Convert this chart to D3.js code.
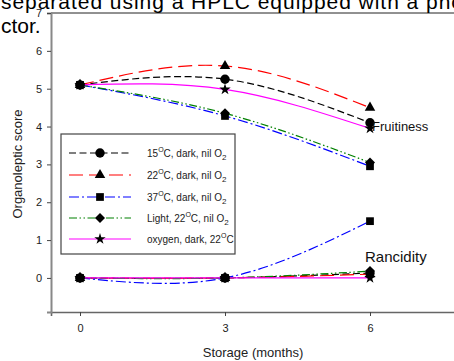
<!DOCTYPE html>
<html><head><meta charset="utf-8">
<script src="https://cdn.jsdelivr.net/npm/d3@7"></script>
<style>html,body{margin:0;padding:0;background:#fff;overflow:hidden}svg{display:block;font-family:Arial,"Liberation Sans",sans-serif}</style>
</head><body>
<script>
// ---- data ----
const months = [0, 3, 6];
const xTicks = [0, 3, 6];
const yTicks = [0, 1, 2, 3, 4, 5, 6, 7];
const seriesLabels = ["15|C, dark, nil O|2", "22|C, dark, nil O|2", "37|C, dark, nil O|2", "Light, 22|C, nil O|2", "oxygen, dark, 22|C|"];
const fruit15 = [5.1, 5.25, 4.1];
const fruit22 = [5.1, 5.6, 4.5];
const fruit37 = [5.1, 4.28, 2.95];
const fruitLight = [5.1, 4.35, 3.05];
const fruitOxy = [5.1, 4.98, 3.95];
const ranc15 = [0, 0, 0.13];
const ranc22 = [0, 0, 0.1];
const ranc37 = [0, 0, 1.5];
const rancLight = [0, 0, 0.18];
const rancOxy = [0, 0, 0];

const styles = [
  {color: "#000000", dash: "7,3.5", sym: d3.symbolCircle, size: 70, rot: 0},
  {color: "#ff0000", dash: "14,6", sym: d3.symbolTriangle, size: 48, rot: 0},
  {color: "#0000ff", dash: "10,3,2,3", sym: d3.symbolSquare, size: 60, rot: 0},
  {color: "#008000", dash: "8,2.5,1.5,2.5,1.5,2.5", sym: d3.symbolSquare, size: 50, rot: 45},
  {color: "#ff00ff", dash: null, sym: d3.symbolStar, size: 40, rot: 0}
];
const fruitSeries = [fruit15, fruit22, fruit37, fruitLight, fruitOxy];
const rancSeries = [ranc15, ranc22, ranc37, rancLight, rancOxy];

const W = 454, H = 361;
const svg = d3.select("body").append("svg").attr("width", W).attr("height", H);

const x = d3.scaleLinear().domain([-0.6, 7.8]).range([51, 457]);
const y = d3.scaleLinear().domain([-0.9, 7]).range([312, 13]);

// top frame line
svg.append("line").attr("x1", 51).attr("x2", W).attr("y1", 13).attr("y2", 13).attr("stroke", "#222").attr("stroke-width", 1);

// axes
const gx = svg.append("g").attr("transform", "translate(0,312)")
  .call(d3.axisBottom(x).tickValues(xTicks).tickSize(4).tickPadding(8).tickFormat(d3.format("d")));
const gy = svg.append("g").attr("transform", "translate(51,0)")
  .call(d3.axisLeft(y).tickValues(yTicks).tickSize(4).tickPadding(5).tickFormat(d3.format("d")));
[gx, gy].forEach(g => {
  g.select(".domain").attr("stroke", "#666").attr("stroke-width", 1.6);
  g.selectAll(".tick line").attr("stroke", "#444");
  g.selectAll(".tick text").attr("font-size", 11).attr("fill", "#222").attr("font-family", "Arial, 'Liberation Sans', sans-serif");
});
gy.select(".domain").attr("stroke", "#888").attr("stroke-width", 2);

// axis titles
svg.append("text").attr("x", 253).attr("y", 357).attr("text-anchor", "middle").attr("font-size", 13).attr("fill", "#222").text("Storage (months)");
svg.append("text").attr("transform", "translate(22,164) rotate(-90)").attr("text-anchor", "middle").attr("font-size", 13).attr("fill", "#222").text("Organoleptic score");

const line = d3.line().x((d, i) => x(months[i])).y(d => y(d)).curve(d3.curveNatural);

function drawSeries(data, s) {
  svg.append("path").datum(data).attr("d", line).attr("fill", "none")
    .attr("stroke", s.color).attr("stroke-width", 1.2)
    .attr("stroke-dasharray", s.dash);
}
function drawMarkers(data, s) {
  svg.append("g").selectAll("path").data(data).join("path")
    .attr("transform", (d, i) => `translate(${x(months[i])},${y(d)}) rotate(${s.rot})`)
    .attr("d", d3.symbol().type(s.sym).size(s.size))
    .attr("fill", "#000");
}
styles.forEach((s, i) => { drawSeries(fruitSeries[i], s); drawSeries(rancSeries[i], s); });
styles.forEach((s, i) => { drawMarkers(rancSeries[i], s); drawMarkers(fruitSeries[i], s); });

// annotations
svg.append("text").attr("x", 372).attr("y", 131).attr("font-size", 13).attr("fill", "#111").text("Fruitiness");
svg.append("text").attr("x", 365).attr("y", 262).attr("font-size", 15).attr("fill", "#111").text("Rancidity");

// legend
const lg = svg.append("g");
lg.append("rect").attr("x", 61).attr("y", 134).attr("width", 174).attr("height", 120)
  .attr("fill", "#fff").attr("stroke", "#444").attr("stroke-width", 1.2);
const rowY = [153, 175, 197, 218, 239];
styles.forEach((s, i) => {
  const yy = rowY[i];
  lg.append("line").attr("x1", 69).attr("x2", 131).attr("y1", yy).attr("y2", yy)
    .attr("stroke", s.color).attr("stroke-width", 1.2).attr("stroke-dasharray", s.dash);
  lg.append("path").attr("transform", `translate(100,${yy}) rotate(${s.rot})`).attr("d", d3.symbol().type(s.sym).size(s.size)).attr("fill", "#000");
  const parts = seriesLabels[i].split("|");
  const t = lg.append("text").attr("x", 147).attr("y", yy + 4).attr("font-size", 10).attr("fill", "#222");
  t.append("tspan").text(parts[0]);
  t.append("tspan").attr("font-size", 7).attr("dy", -5).text("O");
  t.append("tspan").attr("dy", 5).text(parts[1]);
  if (parts[2]) t.append("tspan").attr("font-size", 8).attr("dy", 3).text(parts[2]);
});

// overlaid page text
svg.append("text").attr("x", 1).attr("y", 9).attr("font-size", 21).attr("fill", "#000")
  .attr("textLength", 462).attr("lengthAdjust", "spacing").text("separated using a HPLC equipped with a pho");
svg.append("text").attr("x", 1).attr("y", 33).attr("font-size", 21).attr("fill", "#000").text("ctor.");
</script>
</body></html>
